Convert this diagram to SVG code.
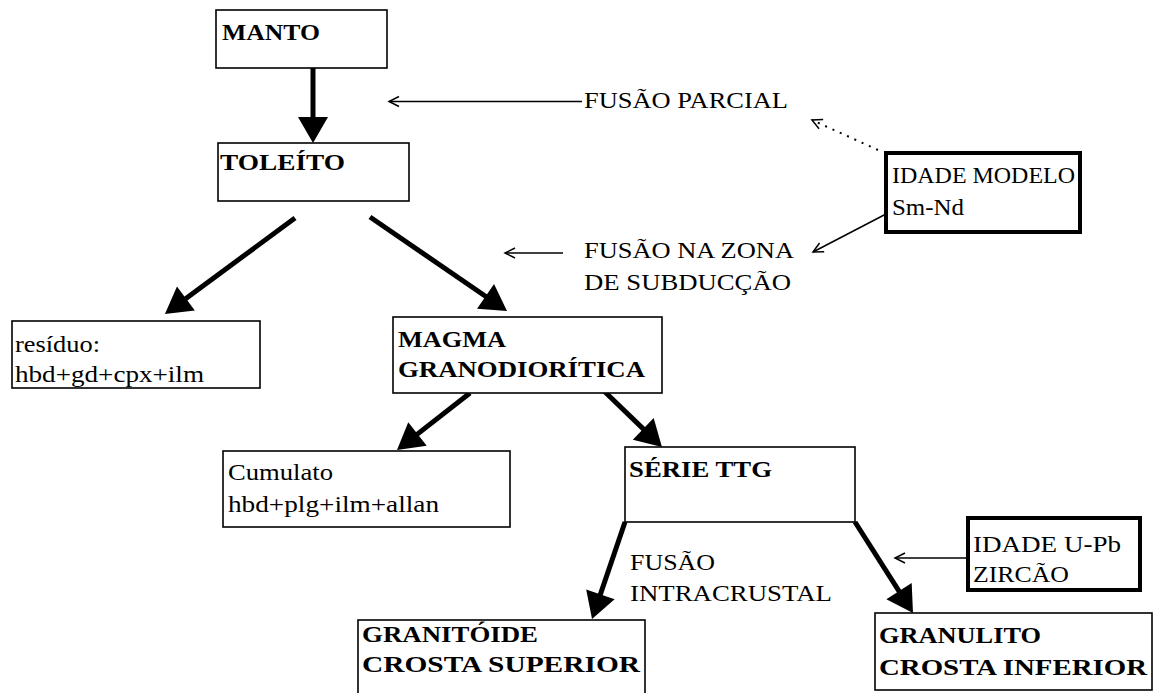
<svg xmlns="http://www.w3.org/2000/svg" width="1155" height="693" viewBox="0 0 1155 693">
<style>
text{font-family:'Liberation Serif','Times New Roman',Times,serif;font-size:24px;fill:#000}
.b{font-weight:bold}
.box{fill:#fff;stroke:#000;stroke-width:1.6}
.tbox{fill:#fff;stroke:#000;stroke-width:4}
.thick{stroke:#000;stroke-width:5;fill:none;marker-end:url(#head)}
.thin{stroke:#000;stroke-width:1.5;fill:none;marker-end:url(#open)}
.dot{stroke:#000;stroke-width:2;fill:none;stroke-dasharray:2 6;marker-end:url(#open)}
</style>
<defs>
<marker id="head" markerUnits="userSpaceOnUse" markerWidth="26" markerHeight="30" refX="18" refY="15" orient="auto" overflow="visible">
<path d="M0,0 L26,15 L0,30 Z" fill="#000"/>
</marker>
<marker id="open" markerUnits="userSpaceOnUse" markerWidth="12" markerHeight="12" refX="10" refY="5" orient="auto" overflow="visible">
<path d="M0,0 L10,5 L0,10" fill="none" stroke="#000" stroke-width="1.5"/>
</marker>
</defs>
<rect width="1155" height="693" fill="#fff"/>
<g id="connectors">
<line class="thick" x1="313" y1="68" x2="313" y2="135"/>
<line class="thick" x1="295" y1="218" x2="171.4" y2="309.2"/>
<line class="thick" x1="370" y1="217" x2="500.4" y2="306.5"/>
<line class="thick" x1="470" y1="393" x2="403.3" y2="445.1"/>
<line class="thick" x1="603" y1="390" x2="656.2" y2="441.4"/>
<line class="thick" x1="625" y1="522" x2="594.6" y2="611.4"/>
<line class="thick" x1="855" y1="522" x2="908.7" y2="606.3"/>
<line class="thin" x1="582" y1="101.5" x2="389" y2="101.5"/>
<line class="dot" x1="878" y1="150" x2="812" y2="120"/>
<line class="thin" x1="886" y1="214" x2="813" y2="252"/>
<line class="thin" x1="563" y1="253" x2="505" y2="253"/>
<line class="thin" x1="968" y1="558" x2="895" y2="558"/>
</g>
<g id="manto"><rect class="box" x="216" y="10" width="171" height="58"/><text class="b" x="222" y="40" textLength="98" lengthAdjust="spacingAndGlyphs" font-family="Liberation Serif">MANTO</text></g>
<g id="toleito"><rect class="box" x="218" y="143" width="191" height="58"/><text class="b" x="220" y="170" textLength="125" lengthAdjust="spacingAndGlyphs">TOLEÍTO</text></g>
<g id="fusao-parcial"><text x="584" y="108" textLength="204" lengthAdjust="spacingAndGlyphs">FUSÃO PARCIAL</text></g>
<g id="idade-modelo"><rect class="tbox" x="886" y="153" width="194" height="79"/><text x="892" y="183" textLength="183" lengthAdjust="spacingAndGlyphs">IDADE MODELO</text><text x="892" y="215" textLength="72" lengthAdjust="spacingAndGlyphs">Sm-Nd</text></g>
<g id="fusao-subduccao"><text x="584" y="258" textLength="210" lengthAdjust="spacingAndGlyphs">FUSÃO NA ZONA</text><text x="584" y="290" textLength="207" lengthAdjust="spacingAndGlyphs">DE SUBDUCÇÃO</text></g>
<g id="residuo"><rect class="box" x="12" y="321" width="248" height="67"/><text x="15" y="352" textLength="85" lengthAdjust="spacingAndGlyphs">resíduo:</text><text x="15" y="382" textLength="189" lengthAdjust="spacingAndGlyphs">hbd+gd+cpx+ilm</text></g>
<g id="magma"><rect class="box" x="393" y="317" width="269" height="76"/><text class="b" x="398" y="347" textLength="108" lengthAdjust="spacingAndGlyphs">MAGMA</text><text class="b" x="398" y="377" textLength="247" lengthAdjust="spacingAndGlyphs">GRANODIORÍTICA</text></g>
<g id="cumulato"><rect class="box" x="223" y="451" width="287" height="76"/><text x="228" y="480" textLength="105" lengthAdjust="spacingAndGlyphs">Cumulato</text><text x="228" y="512" textLength="211" lengthAdjust="spacingAndGlyphs">hbd+plg+ilm+allan</text></g>
<g id="serie-ttg"><rect class="box" x="625" y="447" width="230" height="75"/><text class="b" x="629" y="477" textLength="143" lengthAdjust="spacingAndGlyphs">SÉRIE TTG</text></g>
<g id="fusao-intracrustal"><text x="630" y="570" textLength="85" lengthAdjust="spacingAndGlyphs">FUSÃO</text><text x="630" y="601" textLength="202" lengthAdjust="spacingAndGlyphs">INTRACRUSTAL</text></g>
<g id="idade-upb"><rect class="tbox" x="968" y="518" width="172" height="72"/><text x="973" y="552" textLength="148" lengthAdjust="spacingAndGlyphs">IDADE U-Pb</text><text x="973" y="582" textLength="96" lengthAdjust="spacingAndGlyphs">ZIRCÃO</text></g>
<g id="granitoide"><rect class="box" x="358" y="620" width="287" height="90"/><text class="b" x="362" y="642" textLength="176" lengthAdjust="spacingAndGlyphs">GRANITÓIDE</text><text class="b" x="362" y="672" textLength="278" lengthAdjust="spacingAndGlyphs">CROSTA SUPERIOR</text></g>
<g id="granulito"><rect class="box" x="875" y="613" width="277" height="77"/><text class="b" x="879" y="643" textLength="162" lengthAdjust="spacingAndGlyphs">GRANULITO</text><text class="b" x="879" y="675" textLength="268" lengthAdjust="spacingAndGlyphs">CROSTA INFERIOR</text></g>
</svg>
